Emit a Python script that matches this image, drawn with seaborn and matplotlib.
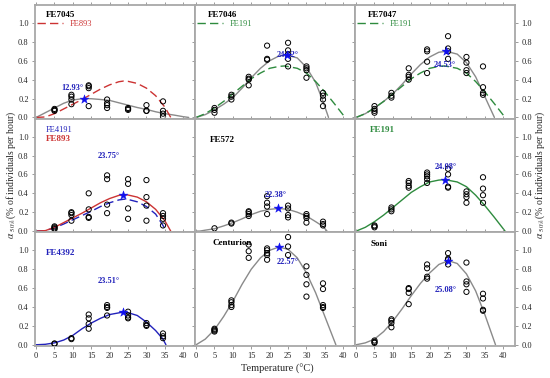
import pandas as pd
import seaborn as sns
import matplotlib.pyplot as plt
from matplotlib.lines import Line2D

# temperaturas de ensayo
temps = [5, 9.6, 14.3, 19.3, 25, 30, 34.5]

# observaciones por panel (una lista por temperatura)
obs = {
    'FE7045': [[0.07, 0.08, 0.09], [0.14, 0.19, 0.22, 0.24], [0.12, 0.31, 0.33, 0.34],
               [0.10, 0.13, 0.15, 0.19], [0.08, 0.09, 0.10], [0.07, 0.07, 0.13],
               [0.01, 0.04, 0.07, 0.17]],
    'FE7046': [[0.05, 0.08, 0.10], [0.19, 0.22, 0.24], [0.34, 0.40, 0.41, 0.43],
               [0.61, 0.62, 0.76], [0.54, 0.62, 0.67, 0.71, 0.79], [0.42, 0.50, 0.52, 0.54],
               [0.12, 0.19, 0.23, 0.26]],
    'FE7047': [[0.05, 0.07, 0.09, 0.12], [0.21, 0.23, 0.26], [0.40, 0.43, 0.45, 0.52],
               [0.47, 0.59, 0.70, 0.72], [0.62, 0.70, 0.73, 0.86], [0.47, 0.50, 0.58, 0.64],
               [0.24, 0.26, 0.32, 0.54]],
    'FE893': [[0.02, 0.03, 0.04, 0.05], [0.11, 0.17, 0.19, 0.20], [0.14, 0.15, 0.23, 0.40],
              [0.19, 0.28, 0.55, 0.59], [0.13, 0.24, 0.50, 0.55], [0.11, 0.27, 0.36, 0.54],
              [0.06, 0.13, 0.16, 0.19]],
    'FE572': [[0.03], [0.08, 0.09], [0.16, 0.18, 0.20, 0.21], [0.18, 0.26, 0.30, 0.37],
              [0.145, 0.17, 0.24, 0.27], [0.09, 0.14, 0.16, 0.18], [0.06, 0.075, 0.10]],
    'FE191': [[0.04, 0.05, 0.06], [0.21, 0.23, 0.25], [0.46, 0.48, 0.51, 0.53],
              [0.51, 0.55, 0.58, 0.60, 0.62], [0.46, 0.47, 0.60, 0.66], [0.30, 0.36, 0.39, 0.42],
              [0.30, 0.38, 0.45, 0.57]],
    'FE4392': [[0.01, 0.014], [0.06, 0.07], [0.17, 0.22, 0.28, 0.32], [0.31, 0.39, 0.40, 0.42],
               [0.28, 0.29, 0.31, 0.35], [0.20, 0.21, 0.23], [0.07, 0.09, 0.12]],
    'Centurion': [[0.14, 0.15, 0.16, 0.17], [0.40, 0.42, 0.45, 0.47], [0.92, 0.99, 1.06],
                  [0.90, 0.95, 0.97, 1.00, 1.02], [0.95, 1.04, 1.14], [0.51, 0.64, 0.74, 0.83],
                  [0.39, 0.40, 0.42, 0.59, 0.65]],
    'Soni': [[0.02, 0.03, 0.045], [0.185, 0.23, 0.255, 0.27], [0.43, 0.55, 0.59, 0.60],
             [0.70, 0.72, 0.81, 0.85], [0.85, 0.90, 0.91, 0.97], [0.56, 0.64, 0.67, 0.87],
             [0.36, 0.37, 0.49, 0.54]],
}

# curvas ajustadas
curva_7045_x = [0, 2.5, 5, 7.5, 10, 12.93, 15, 17.5, 20, 22.5, 25, 27.5, 30, 32.5, 35, 37.5, 40, 41.5]
curva_7045_y = [0, 0.05, 0.10, 0.15, 0.185, 0.20, 0.198, 0.19, 0.18, 0.155, 0.13, 0.105, 0.085, 0.06, 0.04, 0.025, 0.008, 0]
curva_7046_x = [0, 2.5, 5, 7.5, 10, 12.5, 15, 17.5, 20, 22.5, 24.62, 27.5, 30, 32.5, 34.5, 36]
curva_7046_y = [0, 0.03, 0.08, 0.14, 0.21, 0.31, 0.42, 0.52, 0.60, 0.65, 0.66, 0.63, 0.53, 0.37, 0.17, 0]
curva_7047_x = [0, 2.5, 5, 7.5, 10, 12.5, 15, 17.5, 20, 22.5, 24.53, 27.5, 30, 32.5, 35, 37.6]
curva_7047_y = [0, 0.04, 0.10, 0.17, 0.25, 0.35, 0.46, 0.56, 0.64, 0.69, 0.70, 0.67, 0.58, 0.43, 0.22, 0]
curva_893_x = [0, 2.5, 5, 7.5, 10, 12.5, 15, 17.5, 20, 22.5, 23.75, 25, 27.5, 30, 32.5, 35, 36.6]
curva_893_y = [0, 0.005, 0.04, 0.09, 0.14, 0.19, 0.245, 0.30, 0.345, 0.378, 0.385, 0.382, 0.36, 0.31, 0.23, 0.11, 0]
curva_4191_x = [0, 2.5, 5, 7.5, 10, 12.5, 15, 17.5, 20, 22.5, 24, 25, 27.5, 30, 32.5, 34.5, 35.3]
curva_4191_y = [0, 0.005, 0.035, 0.075, 0.12, 0.165, 0.21, 0.26, 0.30, 0.33, 0.338, 0.335, 0.31, 0.26, 0.18, 0.06, 0]
curva_572_x = [0, 1, 2.5, 5, 7.5, 10, 12.5, 15, 17.5, 20, 22.38, 25, 27.5, 30, 32.5, 34.5, 35.6]
curva_572_y = [0, 0, 0.01, 0.025, 0.055, 0.09, 0.13, 0.175, 0.21, 0.23, 0.24, 0.23, 0.20, 0.16, 0.10, 0.05, 0]
curva_191_x = [0, 2.5, 5, 7.5, 10, 12.5, 15, 17.5, 20, 22.5, 24.08, 27.5, 30, 32.5, 35, 37.5, 40.5]
curva_191_y = [0, 0.04, 0.10, 0.17, 0.25, 0.33, 0.41, 0.47, 0.52, 0.54, 0.545, 0.52, 0.47, 0.38, 0.27, 0.15, 0]
curva_4392_x = [0, 2.5, 5, 7.5, 10, 12.5, 15, 17.5, 20, 23.51, 25, 27.5, 30, 32.5, 34.5, 35.3]
curva_4392_y = [0, 0.005, 0.02, 0.05, 0.10, 0.17, 0.23, 0.28, 0.32, 0.345, 0.34, 0.31, 0.24, 0.15, 0.06, 0]
curva_cent_x = [0, 2.5, 5, 7.5, 10, 12.5, 15, 17.5, 20, 22.57, 25, 27.5, 30, 32.5, 35, 38]
curva_cent_y = [0, 0.06, 0.16, 0.30, 0.46, 0.64, 0.80, 0.92, 1.00, 1.035, 1.01, 0.92, 0.76, 0.55, 0.30, 0]
curva_soni_x = [0, 2.5, 5, 7.5, 10, 12.5, 15, 17.5, 20, 22.5, 25.08, 27.5, 30, 32.5, 35, 37.9]
curva_soni_y = [0, 0.02, 0.06, 0.14, 0.25, 0.38, 0.52, 0.65, 0.76, 0.85, 0.89, 0.86, 0.75, 0.57, 0.32, 0]

# temperatura optima y tasa maxima por panel
optimos = {
    'FE7045': (12.93, 0.20), 'FE7046': (24.62, 0.665), 'FE7047': (24.53, 0.70),
    'FE893': (23.75, 0.385), 'FE572': (22.38, 0.24), 'FE191': (24.08, 0.545),
    'FE4392': (23.51, 0.345), 'Centurion': (22.57, 1.035), 'Soni': (25.08, 0.89),
}

GRIS = '#8a8a8a'
ROJO = '#cc3333'
VERDE = '#2e8b3e'
AZUL = '#2222bb'

orden = [['FE7045', 'FE7046', 'FE7047'],
         ['FE893', 'FE572', 'FE191'],
         ['FE4392', 'Centurion', 'Soni']]

# curvas de cada panel: (x, y, color, estilo)
curvas = {
    'FE7045': [(curva_7045_x, curva_7045_y, GRIS, '-'), (curva_893_x, curva_893_y, ROJO, (0, (6, 3)))],
    'FE7046': [(curva_7046_x, curva_7046_y, GRIS, '-'), (curva_191_x, curva_191_y, VERDE, (0, (6, 3)))],
    'FE7047': [(curva_7047_x, curva_7047_y, GRIS, '-'), (curva_191_x, curva_191_y, VERDE, (0, (6, 3)))],
    'FE893': [(curva_4191_x, curva_4191_y, AZUL, (0, (6, 3))), (curva_893_x, curva_893_y, ROJO, '-')],
    'FE572': [(curva_572_x, curva_572_y, GRIS, '-')],
    'FE191': [(curva_191_x, curva_191_y, VERDE, '-')],
    'FE4392': [(curva_4392_x, curva_4392_y, AZUL, '-')],
    'Centurion': [(curva_cent_x, curva_cent_y, GRIS, '-')],
    'Soni': [(curva_soni_x, curva_soni_y, GRIS, '-')],
}

# posicion de la etiqueta de temperatura optima (en datos)
pos_etiqueta = {
    'FE7045': (9.9, 0.31), 'FE7046': (24.9, 0.66), 'FE7047': (24.2, 0.555),
    'FE893': (19.7, 0.79), 'FE572': (21.7, 0.38), 'FE191': (24.3, 0.68),
    'FE4392': (19.8, 0.675), 'Centurion': (24.8, 0.875), 'Soni': (24.4, 0.577),
}
# posicion y color de los titulos (coordenadas de ejes)
titulos = {
    'FE7045': (0.07, 0.91, 'black'), 'FE7046': (0.08, 0.91, 'black'), 'FE7047': (0.08, 0.91, 'black'),
    'FE893': (0.07, 0.82, ROJO), 'FE572': (0.09, 0.81, 'black'), 'FE191': (0.09, 0.90, VERDE),
    'FE4392': (0.07, 0.815, AZUL), 'Centurion': (0.11, 0.905, 'black'), 'Soni': (0.10, 0.90, 'black'),
}

filas = []
for nombre, grupos in obs.items():
    for t, valores in zip(temps, grupos):
        for v in valores:
            filas.append({'panel': nombre, 'temp': t, 'tasa': v})
df = pd.DataFrame(filas)

sns.set_theme(style='white')
plt.rcParams['font.family'] = ['Liberation Serif', 'DejaVu Serif']
plt.rcParams['mathtext.fontset'] = 'stix'

fig, axes = plt.subplots(3, 3, figsize=(5.5, 3.78), dpi=100, sharex=True, sharey=True)
fig.subplots_adjust(left=35 / 550, right=515 / 550, top=1 - 5 / 378, bottom=1 - 346 / 378,
                    wspace=0, hspace=0)

for i in range(3):
    for j in range(3):
        ax = axes[i, j]
        nombre = orden[i][j]
        for cx, cy, col, ls in curvas[nombre]:
            sns.lineplot(x=cx, y=cy, ax=ax, color=col, linestyle=ls, lw=1.0)
        sub = df[df['panel'] == nombre]
        sns.scatterplot(data=sub, x='temp', y='tasa', ax=ax, marker='o', s=14,
                        facecolor='none', edgecolor='black', linewidth=0.7, zorder=3)
        tx, ty = optimos[nombre]
        lx, ly = pos_etiqueta[nombre]
        ax.text(lx, ly, f'{tx:.2f}°', color=AZUL, fontsize=6, fontweight='bold',
                ha='center', va='center', zorder=4)
        sns.scatterplot(x=[tx], y=[ty], ax=ax, marker='*', s=45, color='#1010ee',
                        edgecolor='#1010ee', linewidth=0.3, zorder=5)
        px, py, pc = titulos[nombre]
        ax.text(px, py, nombre, transform=ax.transAxes, fontsize=6.5, fontweight='bold',
                color=pc, ha='left', va='center')

        ax.set_xlim(-0.3, 43.2)
        ax.set_ylim(-0.013, 1.19)
        ax.set_xticks(range(0, 41, 5))
        ax.set_yticks([0, 0.2, 0.4, 0.6, 0.8, 1.0])
        ax.set_yticklabels(['0.0', '0.2', '0.4', '0.6', '0.8', '1.0'])
        ax.set_xlabel('')
        ax.set_ylabel('')
        for s in ax.spines.values():
            s.set_color('#a8a8a8')
            s.set_linewidth(1.3)
        ax.tick_params(direction='out', length=2.5, width=0.7, color='#9a9a9a',
                       labelsize=6, pad=2, top=True, right=True, bottom=True, left=True,
                       labelleft=(j == 0), labelright=(j == 2), labelbottom=(i == 2))

# texto azul del panel FE893
axes[1, 0].text(0.07, 0.90, 'FE4191', transform=axes[1, 0].transAxes, fontsize=6,
                color=AZUL, ha='left', va='center')

# leyendas de las curvas de referencia
leyendas = [(axes[0, 0], ROJO, 'FE893'), (axes[0, 1], VERDE, 'FE191'), (axes[0, 2], VERDE, 'FE191')]
for ax, col, txt in leyendas:
    h = Line2D([], [], color=col, lw=1.0, linestyle=(0, (6, 3)))
    ax.legend(handles=[h], labels=[txt], loc='center left', bbox_to_anchor=(-0.01, 0.83),
              frameon=False, fontsize=6, handlelength=3.2, handletextpad=0.8,
              labelcolor=col, borderaxespad=0)

ylab = r'$\alpha$ $_{50\%}$(% of individuals per hour)'
fig.text(0.02, 0.537, ylab, rotation=90, ha='center', va='center', fontsize=7)
fig.text(0.982, 0.537, ylab, rotation=90, ha='center', va='center', fontsize=7)
fig.text(0.505, 0.024, 'Temperature (°C)', ha='center', va='center', fontsize=7.5)

plt.savefig('out.png', dpi=100)
